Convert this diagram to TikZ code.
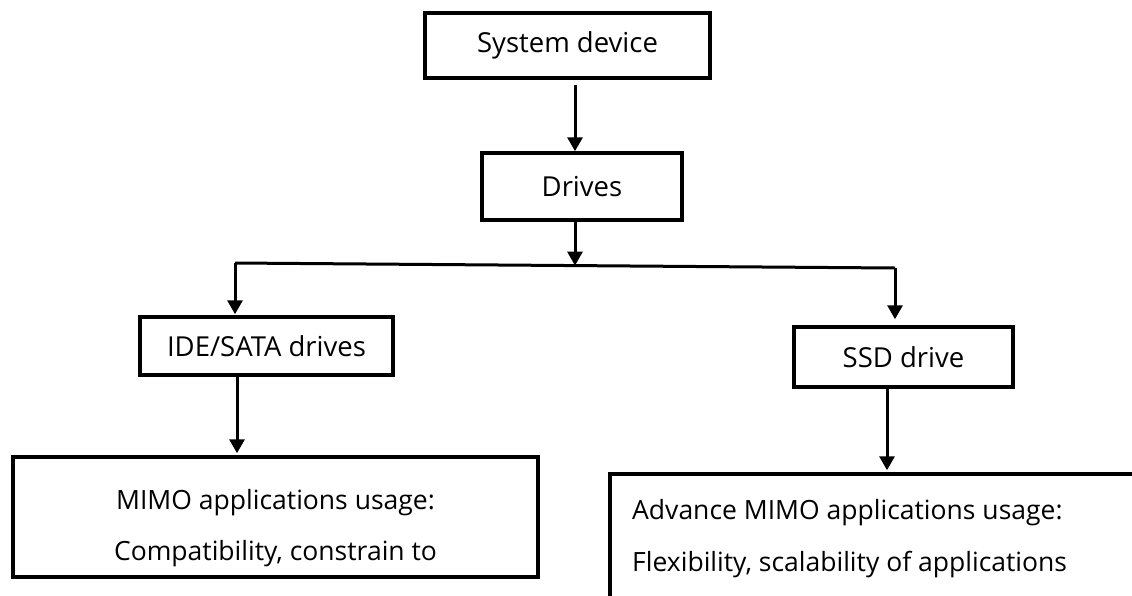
\documentclass[tikz,border=0pt]{standalone}
\usepackage{fontspec}
\setmainfont{Open Sans}
\usetikzlibrary{arrows.meta}

\begin{document}
\begin{tikzpicture}[x=1pt,y=-1pt,
boxnode/.style={draw=black, line width=3.5pt, inner sep=0pt, font=\fontsize{27.5}{32}\selectfont},
textnode/.style={inner sep=0pt, font=\fontsize{26.5}{30}\selectfont},
arrowline/.style={line width=3pt, -{Triangle[width=15pt,length=14pt]}}
]
    \useasboundingbox (0,0) rectangle (1132,595);

    \node[boxnode, minimum width=285, minimum height=65] (sys) at (567.5,45.5){System device};
    \node[boxnode, minimum width=200, minimum height=67] (drv) at (582,186.5){Drives};
    \node[boxnode, minimum width=253, minimum height=58] (ide) at (266.5,346){IDE/SATA drives};
    \node[boxnode, minimum width=219, minimum height=60] (ssd) at (903.5,357){SSD drive};
    \node[boxnode, minimum width=525, minimum height=120] (mimo) at (275.5,517){};
    \node[boxnode, minimum width=560, minimum height=150] (adv) at (890,549){};

    % texts of the two lower boxes
    \node[textnode, anchor=base] (mimo1) at (275.5,509){MIMO applications usage:};
    \node[textnode, anchor=base] (mimo2) at (275.5,560){Compatibility, constrain to};
    \node[textnode, anchor=base west] (adv1) at (632,519){Advance MIMO applications usage:};
    \node[textnode, anchor=base west] (adv2) at (632,571){Flexibility, scalability of applications};

    \coordinate (lc) at (235,263);
    \coordinate (rc) at (895,268);
    \coordinate (jn) at (575,265.6);

    \draw[arrowline, shorten <=5pt] ([xshift=7.5pt]sys.south) -- ([xshift=-7pt]drv.north);
    \draw[arrowline] ([xshift=-7pt]drv.south) -- (jn);
    \draw[line width=3pt] (lc) -- (rc);
    \draw[arrowline, shorten >=1pt] (lc) -- (lc |- ide.north);
    \draw[arrowline, shorten >=6pt] (rc) -- (rc |- ssd.north);
    \draw[arrowline, shorten >=2pt] ([xshift=-29.5pt]ide.south) -- ([xshift=-29.5pt]ide.south |- mimo.north);
    \draw[arrowline, shorten >=2pt] ([xshift=-16.5pt]ssd.south) -- ([xshift=-16.5pt]ssd.south |- adv.north);
\end{tikzpicture}
\end{document}
